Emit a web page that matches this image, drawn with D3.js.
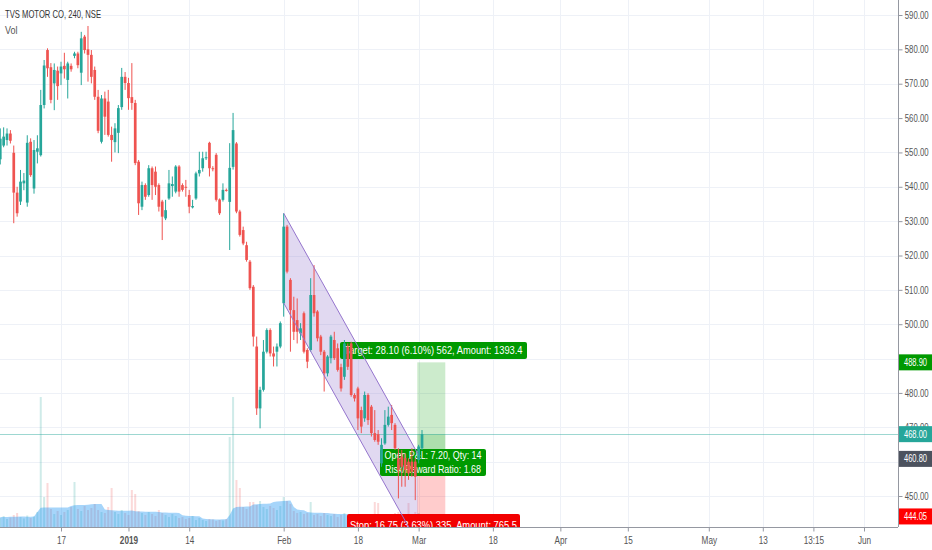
<!DOCTYPE html>
<html><head><meta charset="utf-8">
<script src="https://cdn.jsdelivr.net/npm/d3@7/dist/d3.min.js"></script>
<style>
html,body{margin:0;padding:0;background:#fff;}
svg{display:block;font-family:"Liberation Sans Narrow","Liberation Sans",Arial,sans-serif;}
</style></head><body>
<svg id="c" width="932" height="550"></svg>
<script>
// ---------- DATA ----------
const title = "TVS MOTOR CO, 240, NSE";
const startIndex = -18; // bar index of the first candle (index 0 = 17 Dec 2018, first 240m bar)
const opens = [548,552,553.6,555.5,549.9,538.3,535.7,541,535.4,553.1,
539.5,550.2,549.2,563.8,579.8,574.8,570.1,573.8,573,575.2,
571.1,575.2,578.1,578.8,573.2,583.7,580,578.4,574,566.2,
553.1,565.7,564.8,555.1,553,555.7,563.2,572,570.2,566.1,
564.4,547.3,534.2,540.5,537.6,545.4,544.4,540.5,535.7,530.8,
536.6,540.2,538.6,545.9,540.5,540,537.6,534,536.6,543.9,
545.4,548.3,552.8,545.4,549.3,536.3,536.2,539.1,535.6,545.8,
552.6,532.8,527.4,523,518.2,510.9,493.5,475.5,480.9,492,
498.3,491.5,492,493.5,506.1,528.4,512.9,504.1,501.2,497.3,
503.2,492.5,492.5,508.5,503.7,496.4,492,485.7,490.1,495.4,
493,487.5,484.7,493.5,494.4,479.4,481.3,475,472.6,479.4,
476,468.3,468,459.5,465.3,470.7,473.6,470.7,461,461.5,
461,460,460,460,460.5,463.9];
const highs = [557,557.3,557,556.5,552,540,544.9,544,555,554.1,
553.6,555,568.2,576.9,580.3,576,575.9,575,576.4,579,
576.4,575.9,579.3,579.3,585.1,584.2,586.8,579.8,575,568.2,
566.7,567.7,568.2,557.5,558.5,563.8,574.6,573.4,571.7,576,
565.3,547.8,541.5,541,546.3,545.9,545.9,541,536.2,536.2,
544.9,543,546.3,546.3,541,542,539.1,536.2,544.4,550.2,
550.2,550.2,553.1,546,549.8,536.6,541,539.5,552.7,561.5,
553,533.3,528.4,524,518.7,511.4,496.4,481.8,495.4,498.8,
498.8,493.5,494.4,500.8,532.3,528.9,513.4,508,507.5,500.3,
503.7,493,513.4,517.2,504.1,496.9,492.5,491,496.9,497.8,
494.4,488.5,495.4,494.4,494.9,479.9,481.8,476,480.4,479.9,
476.5,475,469.2,466.8,475,476,476.5,471.2,463.9,463.4,
462.4,461,463.9,461,464.9,469.2];
const lows = [546.5,551.5,552,552.6,529.4,531.3,534.7,539,534.2,542.9,
538,546.8,548.8,562.8,572,564.3,562.3,565.3,569.6,571.5,
565.7,573.5,577.4,574.5,569.6,578.8,570.6,570.1,565.3,555.6,
552.6,555.1,554.6,547.3,550,549.8,562.4,568.2,562.4,562.4,
546.3,531.8,533.2,536.2,537.1,536.2,537.6,532.8,524.5,530.3,
536.2,537.1,538.1,537.1,538.6,537.1,532.3,533.7,536.2,543,
544.4,547.8,543,544.5,535.7,531.8,535.7,538.6,521.6,545,
532.3,525.5,523,518.2,510,493.5,473.6,469.7,480.4,491.5,
490.6,487.7,487.7,493,502.2,514.8,492,495.4,494.4,495.4,
491.5,487.2,492,502.2,495,491,480.4,484.8,488.6,489.6,
486.2,480.4,483.8,486.7,478.9,477.5,469.2,468.3,471.6,470.7,
467.3,465.8,464.9,458.5,464.9,470.2,469.2,463.4,449.3,452.7,
452.7,454.7,455.6,448.8,459.5,463.4];
const closes = [554,554.6,555.5,553.4,538.3,532.3,541.5,541.8,552.8,543.4,
550.7,551.2,563.8,575.3,574.5,565.3,574,569.3,575,574.2,
575.9,574.2,578.8,575.4,583.2,579.8,578.4,572,566.2,556.3,
565.7,560.4,555.1,553.6,557,562.9,572,570.2,565.8,564.4,
546.9,535.2,540.5,537.1,545.4,540.5,540,534.2,531.3,533.2,
541,540.8,545.9,538.6,539.1,539.8,534.2,534.4,543.9,544.9,
548.3,548.6,545.4,545.2,536.2,532.3,539.1,538.9,545.5,556.5,
532.8,526,523.5,518.7,510.5,496.4,475.5,480.9,492,498.3,
491.5,490.6,493.5,500.3,528.4,515.3,504.1,497.8,497.8,498.8,
492,489.1,508.5,503.2,495.9,492,485.7,490.6,496.4,490.1,
486.7,481.3,494.4,487.6,479.4,478.4,472.6,470.2,479.4,472.1,
468.3,466.3,465.8,464.9,470.7,473.1,471.2,463.9,457.6,458.5,
457.6,456.6,457.1,455.6,464.4,468];
const volumes = [90,110,80,95,120,140,100,85,115,90,105,
150,1300,300,440,
180,130,160,120,150,170,
200,450,180,160,210,170,
190,230,170,150,
140,200,390,
150,130,170,140,120,
370,330,
160,140,120,150,130,110,170,
140,120,100,130,110,90,
100,80,90,110,70,90,
70,60,80,75,60,70,65,80,
900,1300,470,390,
200,180,250,
250,220,260,200,180,210,
190,170,210,300,260,230,
160,140,150,130,
140,250,120,130,110,140,120,
110,130,100,120,140,110,
120,100,90,110,130,100,120,250,240,130,110,120,100,140,150,120,110,240,130,150,140,120];
const volumeMA = [100,100,101,102,103,103,104,104,103,103,104,
150,
193,194,195,196,196,195,195,194,195,
210,218,220,220,221,222,
228,230,231,230,
175,170,168,
165,163,163,162,163,164,
158,155,154,153,153,152,152,151,
146,144,143,143,142,141,
118,112,110,109,108,108,
85,80,78,77,76,76,77,77,
120,185,
200,202,203,204,204,
225,228,230,232,232,234,
250,255,258,260,263,265,
200,175,170,168,
150,145,143,142,142,141,140,
135,132,130,130,129,128,
125,122,120,118,117,116,115,116,118,118,117,116,115,115,116,117,117,118,118,119,119,120];
const priceTicks = [450,460,470,480,490,500,510,520,530,540,550,560,570,580,590];
const hiddenPriceLabels = [460,490]; // covered by the price badges in the original
const timeTickIndex = [0,20,38,66,88,106,128,148,168,192,208,223,238];
const timeTickLabels = ["17","2019","14","Feb","18","Mar","18","Apr","15","May","13","13:15","Jun"];
const boldTicks = ["2019"];
// parallel channel anchors [barIndex, price]
const channelUpper = [[66,532.3],[105.8,462.2]];
const channelLowerStart = 506.2;
// long position tool
const entryPrice = 460.80, targetPrice = 488.90, stopPrice = 444.05, lastPrice = 468.00;
const positionStartIdx = 105.6, positionEndIdx = 113.9;
const targetText = "Target: 28.10 (6.10%) 562, Amount: 1393.4";
const openText = ["Open P&L: 7.20, Qty: 14","Risk/Reward Ratio: 1.68"];
const stopText = "Stop: 16.75 (3.63%) 335, Amount: 765.5";

// ---------- LAYOUT ----------
const W = 932, H = 550, plotR = 898, plotB = 527;
const svg = d3.select("#c");
const x = d3.scaleLinear().domain([0, 238]).range([61, 864]);
const y = d3.scaleLinear().domain([450, 590]).range([496, 15]);
const yv = d3.scaleLinear().domain([0, 1400]).range([plotB, 387]);
const UP = "#26a69a", DN = "#ef5350";
const SQ = 0.78; // horizontal squeeze of the narrow chart font

const bars = opens.map((o,k)=>({i:startIndex+k,o,h:highs[k],l:lows[k],c:closes[k],v:volumes[k],ma:volumeMA[k]}));

svg.append("defs").append("clipPath").attr("id","plot").append("rect")
  .attr("x",0).attr("y",0).attr("width",plotR).attr("height",plotB);

// grid
const grid = svg.append("g").attr("clip-path","url(#plot)");
grid.selectAll("line.h").data(priceTicks).join("line")
  .attr("x1",0).attr("x2",plotR).attr("y1",d=>Math.round(y(d))+0.5).attr("y2",d=>Math.round(y(d))+0.5)
  .attr("stroke","#eef1f7").attr("stroke-width",1);
grid.selectAll("line.v").data(timeTickIndex).join("line")
  .attr("y1",0).attr("y2",plotB).attr("x1",d=>Math.round(x(d))+0.5).attr("x2",d=>Math.round(x(d))+0.5)
  .attr("stroke","#eef1f7").attr("stroke-width",1);

const plot = svg.append("g").attr("clip-path","url(#plot)");

// volume bars
plot.selectAll("rect.vol").data(bars).join("rect")
  .attr("x",d=>x(d.i)-1).attr("width",2)
  .attr("y",d=>yv(d.v)).attr("height",d=>plotB-yv(d.v))
  .attr("fill",d=>d.c>=d.o?UP:DN).attr("opacity",0.22);
// volume MA area
plot.append("path").datum(bars)
  .attr("d",d3.area().x(d=>x(d.i)).y0(plotB).y1(d=>yv(d.ma)))
  .attr("fill","rgba(33,150,243,0.4)");

// parallel channel fill
const offs = channelUpper[0][1]-channelLowerStart;
const chPts = [
  [x(channelUpper[0][0]), y(channelUpper[0][1])],
  [x(channelUpper[1][0]), y(channelUpper[1][1])],
  [x(channelUpper[1][0]), y(channelUpper[1][1]-offs)],
  [x(channelUpper[0][0]), y(channelLowerStart)]
];
plot.append("polygon").attr("points",chPts.map(p=>p.join(",")).join(" "))
  .attr("fill","rgba(149,117,205,0.28)");

// position zones
const px0 = x(positionStartIdx), px1 = x(positionEndIdx);
plot.append("rect").attr("x",px0).attr("width",px1-px0)
  .attr("y",y(targetPrice)).attr("height",y(entryPrice)-y(targetPrice))
  .attr("fill","rgba(0,153,0,0.2)");
plot.append("rect").attr("x",px0).attr("width",px1-px0)
  .attr("y",y(lastPrice)).attr("height",y(entryPrice)-y(lastPrice))
  .attr("fill","rgba(0,153,0,0.15)");
plot.append("rect").attr("x",px0).attr("width",px1-px0)
  .attr("y",y(entryPrice)).attr("height",y(stopPrice)-y(entryPrice))
  .attr("fill","rgba(255,0,0,0.2)");

// labels of position tool
function label(g, x0, y0, w, h, fill, lines, tlen){
  g.append("rect").attr("x",x0).attr("y",y0).attr("width",w).attr("height",h).attr("rx",2).attr("fill",fill);
  lines.forEach((t,k)=>{
    g.append("text").attr("x",x0+w/2).attr("y",y0+ (h/lines.length)*(k+0.5)+3.6)
      .attr("text-anchor","middle").attr("fill","#fff").attr("font-size",11)
      .attr("textLength",tlen[k]).attr("lengthAdjust","spacingAndGlyphs").text(t);
  });
}
label(plot, 340, 342, 187, 17, "#009900", [targetText], [178]);
label(plot, 380, 449, 106, 27, "#009900", openText, [97, 96]);
label(plot, 347, 514, 173, 22, "#f20000", [stopText], [167]);

// last price line
plot.append("line").attr("x1",0).attr("x2",plotR)
  .attr("y1",Math.round(y(lastPrice))+0.5).attr("y2",Math.round(y(lastPrice))+0.5)
  .attr("stroke",UP).attr("stroke-opacity",0.45);

// candles
const cg = plot.append("g");
cg.selectAll("line.w").data(bars).join("line")
  .attr("x1",d=>x(d.i)).attr("x2",d=>x(d.i))
  .attr("y1",d=>y(d.h)).attr("y2",d=>y(d.l))
  .attr("stroke",d=>d.c>=d.o?UP:DN).attr("stroke-width",1);
cg.selectAll("rect.b").data(bars).join("rect")
  .attr("x",d=>x(d.i)-1.35).attr("width",2.7)
  .attr("y",d=>y(Math.max(d.o,d.c)))
  .attr("height",d=>Math.max(1,Math.abs(y(d.o)-y(d.c))))
  .attr("fill",d=>d.c>=d.o?UP:DN);

// channel border lines
plot.append("line").attr("x1",chPts[0][0]).attr("y1",chPts[0][1]).attr("x2",chPts[1][0]).attr("y2",chPts[1][1])
  .attr("stroke","#9575cd").attr("stroke-width",1);
plot.append("line").attr("x1",chPts[3][0]).attr("y1",chPts[3][1]).attr("x2",chPts[2][0]).attr("y2",chPts[2][1])
  .attr("stroke","#9575cd").attr("stroke-width",1);

// axes
const ya = svg.append("g").attr("transform",`translate(${plotR+0.5},0)`)
  .call(d3.axisRight(y).tickValues(priceTicks)
    .tickFormat(d=>hiddenPriceLabels.includes(d)?"":d3.format(".2f")(d)).tickSize(4).tickPadding(4));
ya.select(".domain").attr("stroke","#9598a1").attr("d",`M0,0V${plotB}`);
ya.selectAll(".tick line").attr("stroke","#9598a1");
ya.selectAll(".tick text").attr("fill","#555").attr("font-size",10).attr("font-family",null)
  .attr("transform",`scale(${SQ},1)`);

const xa = svg.append("g").attr("transform",`translate(0,${plotB+0.5})`)
  .call(d3.axisBottom(x).tickValues(timeTickIndex).tickFormat((d,k)=>timeTickLabels[k]).tickSize(4).tickPadding(5));
xa.select(".domain").attr("stroke","#9598a1").attr("d",`M0,0H${plotR}`);
xa.selectAll(".tick line").attr("stroke","#9598a1");
xa.selectAll(".tick text").attr("fill","#555").attr("font-size",10.5).attr("font-family",null)
  .attr("transform",`scale(${SQ},1)`)
  .attr("font-weight",(d,k)=>boldTicks.includes(timeTickLabels[k])?"bold":null);

// price badges
function badge(price, fill){
  const yy = y(price);
  svg.append("rect").attr("x",plotR+1).attr("y",yy-8).attr("width",W-plotR-1).attr("height",16).attr("fill",fill);
  svg.append("text").attr("x",plotR+6).attr("y",yy+3.6).attr("fill","#fff").attr("font-size",10)
    .attr("textLength",23).attr("lengthAdjust","spacingAndGlyphs").text(d3.format(".2f")(price));
}
badge(targetPrice,"#009900");
badge(lastPrice,UP);
badge(entryPrice,"#4c525e");
badge(stopPrice,"#ff0000");

// legend
svg.append("text").attr("x",5).attr("y",18).attr("fill","#333").attr("font-size",11.5)
  .attr("textLength",96).attr("lengthAdjust","spacingAndGlyphs").text(title);
svg.append("text").attr("x",5).attr("y",34).attr("fill","#555").attr("font-size",11)
  .attr("textLength",12.5).attr("lengthAdjust","spacingAndGlyphs").text("Vol");
</script>
</body></html>
